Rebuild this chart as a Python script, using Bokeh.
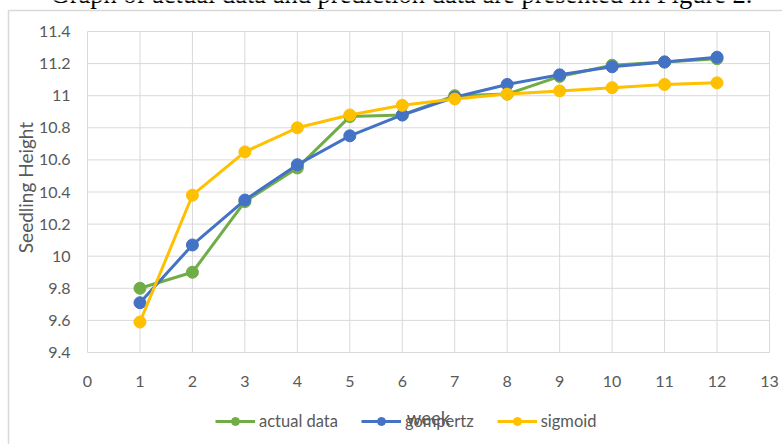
import math
from bokeh.plotting import figure
from bokeh.models import Range1d, Legend, LegendItem, Label, ColumnDataSource
from bokeh.core.properties import value
from bokeh.embed import file_html
from bokeh.resources import INLINE

weeks = [1, 2, 3, 4, 5, 6, 7, 8, 9, 10, 11, 12]
actual = [9.80, 9.90, 10.34, 10.55, 10.87, 10.88, 11.00, 11.01, 11.12, 11.19, 11.21, 11.23]
gompertz = [9.71, 10.07, 10.35, 10.57, 10.75, 10.88, 10.99, 11.07, 11.13, 11.18, 11.21, 11.24]
sigmoid = [9.59, 10.38, 10.65, 10.80, 10.88, 10.94, 10.98, 11.01, 11.03, 11.05, 11.07, 11.08]

x_ticks = list(range(0, 14))
x_tick_labels = [str(t) for t in x_ticks]
y_ticks = [9.4, 9.6, 9.8, 10, 10.2, 10.4, 10.6, 10.8, 11, 11.2, 11.4]
y_tick_labels = ["9.4", "9.6", "9.8", "10", "10.2", "10.4", "10.6", "10.8", "11", "11.2", "11.4"]

series_names = ["actual data", "gompertz", "sigmoid"]
colors = ["#70AD47", "#4472C4", "#FFC000"]

x_title = "week"
y_title = "Seedling Height"
title_text = "Graph of actual data and prediction data are presented in Figure 2."

FONT = "Lato"
GRAY = "#595959"
GRID = "#d9d9d9"

W, H = 782, 444
# plot area in canvas pixels (layout only)
PL, PR, PT, PB = 87, 769, 31, 352

x0, x1 = x_ticks[0], x_ticks[-1]
y0, y1 = y_ticks[0], y_ticks[-1]
kx = (PR - PL) / (x1 - x0)
ky = (PB - PT) / (y1 - y0)
xr = Range1d(x0 - PL / kx, x1 + (W - PR) / kx)
yr = Range1d(y0 - (H - PB) / ky, y1 + PT / ky)

p = figure(width=W, height=H, output_backend="svg", toolbar_location=None,
           x_axis_type=None, y_axis_type=None, x_range=xr, y_range=yr,
           min_border=0)
p.outline_line_color = None
p.background_fill_color = "white"
p.border_fill_color = "white"

# chart-area border (left and top edges visible)
bx = x0 + (8 - PL) / kx
by = y1 + (PT - 10) / ky
p.segment(x0=[bx, bx], y0=[by, by], x1=[bx, xr.end + 1], y1=[yr.start - 1, by],
          line_color=GRID, line_width=1.5)

# gridlines restricted to the plot area
p.segment(x0=x_ticks, y0=[y0] * len(x_ticks), x1=x_ticks, y1=[y1] * len(x_ticks),
          line_color=GRID, line_width=1)
p.segment(x0=[x0] * len(y_ticks), y0=y_ticks, x1=[x1] * len(y_ticks), y1=y_ticks,
          line_color=GRID, line_width=1)

# tick labels
xt = ColumnDataSource(dict(x=x_ticks, y=[y0] * len(x_ticks), t=x_tick_labels))
yt = ColumnDataSource(dict(x=[x0] * len(y_ticks), y=y_ticks, t=y_tick_labels))
p.text(x="x", y="y", text="t", source=xt, y_offset=29, text_align="center",
       text_baseline="middle", text_font=value(FONT), text_font_size="16px",
       text_color=GRAY)
p.text(x="x", y="y", text="t", source=yt, x_offset=-17, text_align="right",
       text_baseline="middle", text_font=value(FONT), text_font_size="16px",
       text_color=GRAY)

# axis titles
p.add_layout(Label(x=428, y=417, x_units="canvas", y_units="canvas", text=x_title,
                   text_align="center", text_baseline="middle", text_font=FONT,
                   text_font_size="18.5px", text_color=GRAY))
p.add_layout(Label(x=25, y=187, x_units="canvas", y_units="canvas", text=y_title,
                   angle=math.pi / 2, text_align="center", text_baseline="middle",
                   text_font=FONT, text_font_size="19px", text_color=GRAY))

items = []
for name, vals, c in zip(series_names, [actual, gompertz, sigmoid], colors):
    ln = p.line(weeks, vals, line_color=c, line_width=3)
    sc = p.scatter(weeks, vals, size=12, fill_color=c, line_color=c)
    items.append(LegendItem(label=name, renderers=[ln, sc]))

legend = Legend(items=items, orientation="horizontal", location=(215, 13),
                padding=0, margin=0, spacing=23, glyph_width=40, glyph_height=20,
                label_standoff=4, border_line_color=None, background_fill_alpha=0,
                label_text_font=FONT, label_text_font_size="16.5px", label_text_color=GRAY)
p.add_layout(legend, "center")

p.add_layout(Label(x=50, y=-7, x_units="canvas", y_units="canvas", text=title_text,
                   text_baseline="alphabetic", text_font="Liberation Serif",
                   text_font_size="26.5px", text_color="black"))

open("out.html", "w").write(file_html(p, INLINE))
